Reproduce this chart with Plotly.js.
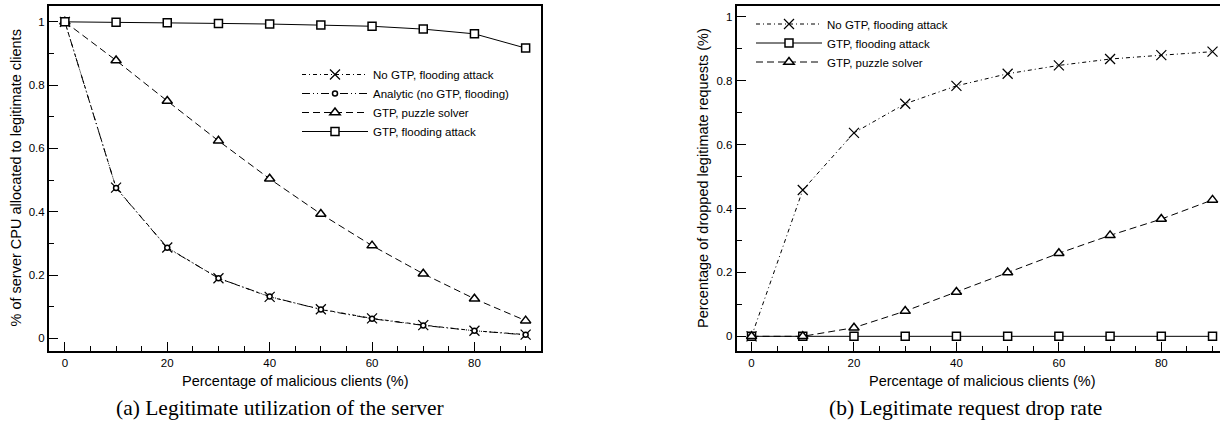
<!DOCTYPE html>
<html>
<head>
<meta charset="utf-8">
<script src="https://cdn.plot.ly/plotly-3.0.1.min.js"></script>
<style>html,body{margin:0;padding:0;background:#fff;}#chart{width:1220px;height:423px;}</style>
</head>
<body>
<div id="chart"></div>
<script>
// ---- Data ----
var malicious = [0, 10, 20, 30, 40, 50, 60, 70, 80, 90];

// (a) Legitimate utilization of the server
var utilNoGtpFlood   = [1, 0.476, 0.287, 0.19, 0.131, 0.092, 0.063, 0.042, 0.024, 0.012];
var utilAnalytic     = [1, 0.475, 0.286, 0.19, 0.132, 0.091, 0.062, 0.041, 0.024, 0.011];
var utilGtpPuzzle    = [1, 0.878, 0.75, 0.624, 0.504, 0.393, 0.293, 0.204, 0.125, 0.056];
var utilGtpFlood     = [1, 0.999, 0.997, 0.995, 0.993, 0.99, 0.986, 0.977, 0.962, 0.917];

// (b) Legitimate request drop rate
var dropNoGtpFlood   = [0, 0.458, 0.637, 0.728, 0.784, 0.822, 0.848, 0.868, 0.88, 0.891];
var dropGtpFlood     = [0, 0, 0, 0, 0, 0, 0, 0, 0, 0];
var dropGtpPuzzle    = [0, 0, 0.027, 0.079, 0.139, 0.2, 0.26, 0.316, 0.367, 0.427];

var names = {
  noGtpFlood: "No GTP, flooding attack",
  analytic: "Analytic (no GTP, flooding)",
  gtpPuzzle: "GTP, puzzle solver",
  gtpFlood: "GTP, flooding attack"
};

var xTitle = "Percentage of malicious clients (%)";
var yTitleA = "% of server CPU allocated to legitimate clients";
var yTitleB = "Percentage of dropped legitimate requests (%)";
var captionA = "(a) Legitimate utilization of the server";
var captionB = "(b) Legitimate request drop rate";

// ---- Styles ----
var BLACK = "#000";
var dashNoGtp = "4px,3px,1px,3px";
var dashAnalytic = "8px,3px,1px,3px,1px,3px";
var dashPuzzle = "7px,4px";

function tr(x, y, name, dash, symbol, size, xa, ya, leg) {
  var isX = symbol === "x-thin-open";
  return {
    x: x, y: y, name: name, type: "scatter", mode: "lines+markers",
    xaxis: xa, yaxis: ya, legend: leg, cliponaxis: false,
    line: {color: BLACK, width: 1, dash: dash},
    marker: {symbol: symbol, size: size, color: isX ? BLACK : "#fff",
             line: {color: BLACK, width: isX ? 1.2 : 1.5}}
  };
}

var data = [
  tr(malicious, utilNoGtpFlood, names.noGtpFlood, dashNoGtp, "x-thin-open", 10, "x", "y", "legend"),
  tr(malicious, utilAnalytic, names.analytic, dashAnalytic, "circle", 5, "x", "y", "legend"),
  tr(malicious, utilGtpPuzzle, names.gtpPuzzle, dashPuzzle, "triangle-up", 9, "x", "y", "legend"),
  tr(malicious, utilGtpFlood, names.gtpFlood, "solid", "square", 8, "x", "y", "legend"),
  tr(malicious, dropNoGtpFlood, names.noGtpFlood, dashNoGtp, "x-thin-open", 10, "x2", "y2", "legend2"),
  tr(malicious, dropGtpFlood, names.gtpFlood, "solid", "square", 8, "x2", "y2", "legend2"),
  tr(malicious, dropGtpPuzzle, names.gtpPuzzle, dashPuzzle, "triangle-up", 9, "x2", "y2", "legend2")
];

var tickFont = {family: "Liberation Sans, Arial, sans-serif", size: 11.5, color: BLACK};

function xAxis(domain, range, mirror, anchor) {
  return {
    domain: domain, range: range, anchor: anchor, showgrid: false, zeroline: false,
    showline: true, linecolor: BLACK, linewidth: 2, mirror: mirror,
    ticks: "inside", ticklen: 9, tickwidth: 1, tickcolor: BLACK,
    tickmode: "linear", tick0: 0, dtick: 20, tickfont: tickFont,
    minor: {ticks: "inside", ticklen: 5, tickwidth: 1, tickcolor: BLACK, dtick: 5, tick0: 0, showgrid: false},
    fixedrange: true
  };
}
function yAxis(domain, range, mirror, anchor) {
  return {
    domain: domain, range: range, anchor: anchor, showgrid: false, zeroline: false,
    showline: true, linecolor: BLACK, linewidth: 2, mirror: mirror,
    ticks: "inside", ticklen: 9, tickwidth: 1, tickcolor: BLACK,
    tickmode: "linear", tick0: 0, dtick: 0.2, tickfont: tickFont,
    tickformat: "~g",
    minor: {ticks: "inside", ticklen: 5, tickwidth: 1, tickcolor: BLACK, dtick: 0.1, tick0: 0, showgrid: false},
    fixedrange: true
  };
}

var W = 1220, H = 423;
function px(v) { return v / W; }
function py(v) { return 1 - v / H; }

var legFont = {family: "Liberation Sans, Arial, sans-serif", size: 11.5, color: BLACK};
var titleFont = {family: "Liberation Sans, Arial, sans-serif", size: 14.5, color: BLACK};
var capFont = {family: "Liberation Serif, Times New Roman, serif", size: 21.5, color: BLACK};

var layout = {
  width: W, height: H,
  margin: {l: 0, r: 0, t: 0, b: 0, pad: 0},
  paper_bgcolor: "#fff", plot_bgcolor: "#fff",
  showlegend: true,
  xaxis: xAxis([px(49), px(541)], [-3.1, 93], true, "y"),
  yaxis: yAxis([py(350.7), py(6)], [-0.039, 1.05], true, "x"),
  xaxis2: xAxis([px(736.7), 1], [-2.9, 91.46], true, "y2"),
  yaxis2: yAxis([py(350.7), py(6)], [-0.045, 1.034], false, "x2"),
  legend: {x: px(297), y: py(60), xanchor: "left", yanchor: "top", bgcolor: "rgba(0,0,0,0)",
           borderwidth: 0, font: legFont, itemwidth: 66, tracegroupgap: 0},
  legend2: {x: px(751), y: py(9.5), xanchor: "left", yanchor: "top", bgcolor: "rgba(0,0,0,0)",
            borderwidth: 0, font: legFont, itemwidth: 66, tracegroupgap: 0},
  annotations: [
    {text: yTitleA, xref: "paper", yref: "paper", x: px(15.5), y: py(178), textangle: -90,
     showarrow: false, xanchor: "center", yanchor: "middle", font: titleFont},
    {text: yTitleB, xref: "paper", yref: "paper", x: px(703), y: py(178), textangle: -90,
     showarrow: false, xanchor: "center", yanchor: "middle", font: titleFont},
    {text: xTitle, xref: "paper", yref: "paper", x: px(295), y: py(381),
     showarrow: false, xanchor: "center", yanchor: "middle", font: titleFont},
    {text: xTitle, xref: "paper", yref: "paper", x: px(981.7), y: py(381),
     showarrow: false, xanchor: "center", yanchor: "middle", font: titleFont},
    {text: captionA, xref: "paper", yref: "paper", x: px(280), y: py(408),
     showarrow: false, xanchor: "center", yanchor: "middle", font: capFont},
    {text: captionB, xref: "paper", yref: "paper", x: px(965), y: py(408),
     showarrow: false, xanchor: "center", yanchor: "middle", font: capFont}
  ]
};

Plotly.newPlot("chart", data, layout, {displayModeBar: false, staticPlot: true});
</script>
</body>
</html>
